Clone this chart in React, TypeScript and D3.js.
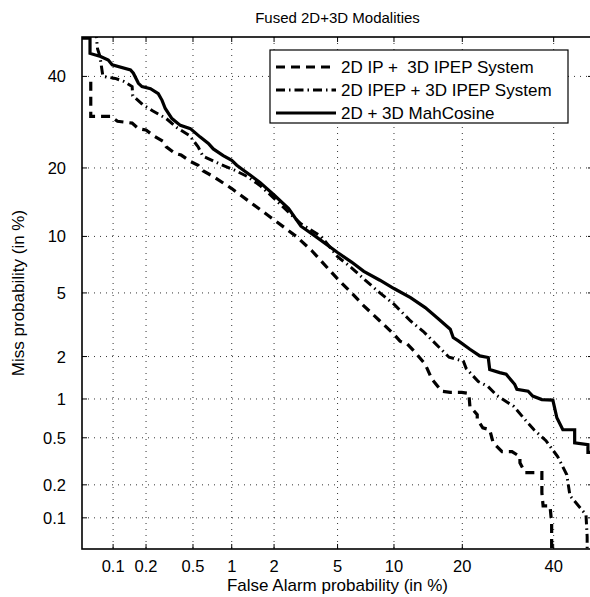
import React from "react";
import * as d3 from "d3";

// DET curve values, [false alarm %, miss %]
const ipSeries: [number, number][] = [
  [0.061, 38.7], [0.061, 30.5], [0.095, 30.5], [0.11, 29.4], [0.15, 29.0], [0.171, 27.8], [0.2, 27.5],
  [0.232, 26.3], [0.283, 25.1], [0.3, 24.0], [0.357, 22.7], [0.4, 22.4], [0.476, 21.2], [0.55, 20.5],
  [0.6, 19.5], [0.724, 18.5], [1.0, 16.5], [1.5, 13.8], [2.0, 12.0], [2.8, 10.0], [3.5, 8.5], [5.0, 6.0],
  [6.0, 5.0], [7.0, 4.2], [8.5, 3.4], [10, 2.8], [10.7, 2.53], [11.6, 2.42], [12.6, 2.14], [14.0, 1.77],
  [15.0, 1.39], [16.5, 1.14], [17.9, 1.12], [19.9, 1.12], [21.2, 1.1], [21.4, 0.88], [22.8, 0.76],
  [22.8, 0.7], [23.9, 0.6], [25.3, 0.58], [26, 0.457], [27.9, 0.385], [30.1, 0.385], [31.9, 0.35],
  [31.9, 0.31], [33.1, 0.256], [37.1, 0.256], [37.1, 0.17], [37.4, 0.129], [39.1, 0.129], [39.5, 0.089],
  [39.5, 0.04],
];

const ipepSeries: [number, number][] = [
  [0.068, 52], [0.071, 47], [0.075, 45], [0.08, 40], [0.105, 39.5], [0.125, 38.8], [0.15, 37.5],
  [0.152, 35.3], [0.19, 33], [0.21, 32.4], [0.23, 31.7], [0.3, 30], [0.37, 28], [0.47, 26.3], [0.55, 24],
  [0.6, 22.2], [0.8, 20.8], [1.05, 19.6], [1.3, 18.5], [1.6, 17], [2, 15], [2.5, 13], [3, 11.5], [4, 10],
  [5, 7.9], [6, 6.9], [7, 6], [8.5, 5], [10, 4.3], [12, 3.4], [13.7, 2.93], [17.7, 1.98], [20.2, 1.86],
  [20.7, 1.66], [23.0, 1.34], [24.9, 1.24], [26.8, 1.06], [30.5, 0.88], [33.5, 0.67], [35.2, 0.58],
  [38.1, 0.474], [41.0, 0.35], [43.3, 0.245], [44.1, 0.16], [48.2, 0.107], [48.5, 0.066], [48.5, 0.04],
];

const mahSeries: [number, number][] = [
  [0.05, 49.7], [0.06, 49.7], [0.06, 45.8], [0.076, 45.0], [0.09, 44.1], [0.098, 42.9], [0.145, 41.6],
  [0.154, 40.8], [0.171, 38.3], [0.184, 37.5], [0.219, 37.0], [0.256, 35.8], [0.276, 34.2], [0.294, 32.3],
  [0.335, 30.0], [0.394, 28.5], [0.476, 27.8], [0.572, 26.0], [0.663, 24.7], [0.724, 23.6], [0.863, 22.3],
  [1.0, 21.4], [1.09, 20.5], [1.22, 19.6], [1.37, 18.7], [1.6, 17.5], [2.0, 15.5], [2.5, 13.5], [3.0, 11.2],
  [3.7, 10.0], [5.0, 8.3], [6.0, 7.4], [7.0, 6.6], [8.5, 5.9], [10, 5.3], [12, 4.7], [14, 4.1], [16, 3.5],
  [17.9, 3.02], [18.4, 2.67], [19.3, 2.54], [21.4, 2.24], [23.3, 2.02], [25.0, 1.97], [25.3, 1.63],
  [27.4, 1.55], [28.8, 1.51], [30.7, 1.28], [31.2, 1.18], [33.8, 1.14], [34.9, 1.05], [37.1, 0.99],
  [39.8, 0.98], [40.8, 0.72], [42.3, 0.58], [45.3, 0.58], [45.3, 0.454], [48.7, 0.44], [48.7, 0.38],
  [52, 0.38],
];

const tickValues = [0.1, 0.2, 0.5, 1, 2, 5, 10, 20, 40];
const legendLabels = ["2D IP +  3D IPEP System", "2D IPEP + 3D IPEP System", "2D + 3D MahCosine"];

// inverse normal cdf (Acklam)
function probit(p: number): number {
  const a = [-39.69683028665376, 220.9460984245205, -275.9285104469687, 138.357751867269, -30.66479806614716, 2.506628277459239];
  const b = [-54.47609879822406, 161.5858368580409, -155.6989798598866, 66.80131188771972, -13.28068155288572];
  const c = [-0.007784894002430293, -0.3223964580411365, -2.400758277161838, -2.549732539343734, 4.374664141464968, 2.938163982698783];
  const d = [0.007784695709041462, 0.3224671290700398, 2.445134137142996, 3.754408661907416];
  const pl = 0.02425;
  if (p < pl) {
    const q = Math.sqrt(-2 * Math.log(p));
    return (((((c[0] * q + c[1]) * q + c[2]) * q + c[3]) * q + c[4]) * q + c[5]) / ((((d[0] * q + d[1]) * q + d[2]) * q + d[3]) * q + 1);
  }
  if (p <= 1 - pl) {
    const q = p - 0.5, r = q * q;
    return ((((((a[0] * r + a[1]) * r + a[2]) * r + a[3]) * r + a[4]) * r + a[5]) * q) / (((((b[0] * r + b[1]) * r + b[2]) * r + b[3]) * r + b[4]) * r + 1);
  }
  const q = Math.sqrt(-2 * Math.log(1 - p));
  return -(((((c[0] * q + c[1]) * q + c[2]) * q + c[3]) * q + c[4]) * q + c[5]) / ((((d[0] * q + d[1]) * q + d[2]) * q + d[3]) * q + 1);
}

const W = 590, H = 597;
const left = 82, right = 593, top = 37, bottom = 549;
const font = "'Liberation Sans', Arial, Helvetica, sans-serif";

export default function App() {
  const x = d3.scaleLinear().domain([probit(0.0005), probit(0.5)]).range([left, right]);
  const y = d3.scaleLinear().domain([probit(0.0005), probit(0.5)]).range([bottom, top]);
  const line = d3.line<[number, number]>()
    .x(d => x(probit(d[0] / 100)))
    .y(d => y(probit(d[1] / 100)));

  const styles = [
    { data: ipSeries, dash: "9,6", width: 3.2 },
    { data: ipepSeries, dash: "9,4,1.5,4", width: 3 },
    { data: mahSeries, dash: "none", width: 3.2 },
  ];

  return (
    <svg width={W} height={H} style={{ position: "absolute", left: 0, top: 0, background: "#fff" }} fontFamily={font}>
      <defs>
        <clipPath id="plotClip">
          <rect x={left} y={top} width={right - left} height={bottom - top} />
        </clipPath>
      </defs>
      <rect x={0} y={0} width={W} height={H} fill="#fff" />

      {/* grid */}
      {tickValues.map(t => (
        <g key={"g" + t}>
          <line x1={x(probit(t / 100))} x2={x(probit(t / 100))} y1={top} y2={bottom} stroke="#333" strokeWidth={1} strokeDasharray="1,5" />
          <line x1={left} x2={right} y1={y(probit(t / 100))} y2={y(probit(t / 100))} stroke="#333" strokeWidth={1} strokeDasharray="1,5" />
        </g>
      ))}

      {/* ticks */}
      {tickValues.map(t => {
        const px = x(probit(t / 100)), py = y(probit(t / 100));
        return (
          <g key={"t" + t} stroke="#000" strokeWidth={1}>
            <line x1={px} x2={px} y1={bottom} y2={bottom - 5} />
            <line x1={px} x2={px} y1={top} y2={top + 5} />
            <line x1={left} x2={left + 5} y1={py} y2={py} />
            <line x1={right} x2={right - 5} y1={py} y2={py} />
          </g>
        );
      })}

      {/* curves */}
      <g clipPath="url(#plotClip)">
        {styles.map((s, i) => (
          <path key={i} d={line(s.data) || ""} fill="none" stroke="#000" strokeWidth={s.width}
            strokeDasharray={s.dash} strokeLinejoin="miter" />
        ))}
      </g>

      <rect x={left} y={top} width={right - left} height={bottom - top} fill="none" stroke="#000" strokeWidth={1.6} />

      {/* tick labels */}
      {tickValues.map(t => (
        <text key={"xl" + t} x={x(probit(t / 100))} y={572} textAnchor="middle" fontSize={16.5}>{t}</text>
      ))}
      {tickValues.map(t => (
        <text key={"yl" + t} x={66} y={y(probit(t / 100)) + 6} textAnchor="end" fontSize={16.5}>{t}</text>
      ))}

      <text x={(left + right) / 2} y={591} textAnchor="middle" fontSize={17}>False Alarm probability (in %)</text>
      <text transform={`translate(24, ${(top + bottom) / 2}) rotate(-90)`} textAnchor="middle" fontSize={17}>Miss probability (in %)</text>
      <text x={(left + right) / 2} y={23} textAnchor="middle" fontSize={15}>Fused 2D+3D Modalities</text>

      {/* legend */}
      <g>
        <rect x={270} y={50} width={298} height={73} fill="#fff" stroke="#000" strokeWidth={1.2} />
        {legendLabels.map((lab, i) => {
          const ry = 67 + i * 23;
          return (
            <g key={lab}>
              <line x1={276} x2={336} y1={ry} y2={ry} stroke="#000" strokeWidth={styles[i].width}
                strokeDasharray={styles[i].dash} />
              <text x={341} y={ry + 6} fontSize={17} style={{ whiteSpace: "pre" }}>{lab}</text>
            </g>
          );
        })}
      </g>
    </svg>
  );
}
